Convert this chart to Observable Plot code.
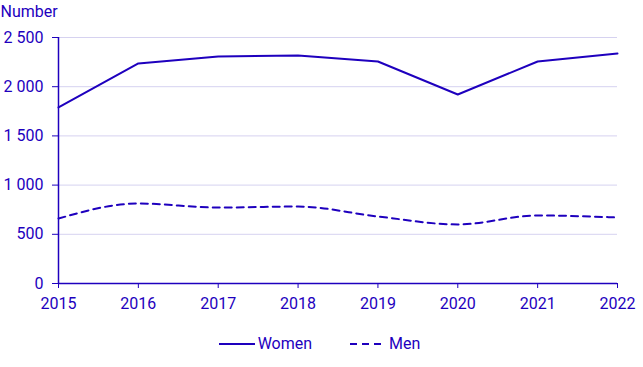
<!DOCTYPE html>
<html>
<head>
<meta charset="utf-8">
<script src="https://cdn.jsdelivr.net/npm/d3@7"></script>
<script src="https://cdn.jsdelivr.net/npm/@observablehq/plot@0.6"></script>
<style>
  body { margin: 0; background: #fff; font-family: Roboto, sans-serif; }
  #legend { height: 47px; display: flex; justify-content: center; align-items: center; gap: 38px; color: #1e00be; font-size: 16px; padding-right: 4px; box-sizing: border-box; }
  #legend span { display: inline-flex; align-items: center; gap: 3px; }
</style>
</head>
<body>
<div id="chart"></div>
<div id="legend"></div>
<script>
const years = [2015, 2016, 2017, 2018, 2019, 2020, 2021, 2022];
const women = [1789, 2236, 2307, 2317, 2256, 1921, 2256, 2337];
const men = [660, 813, 772, 782, 681, 600, 691, 671];
const yTicks = [0, 500, 1000, 1500, 2000, 2500];
const seriesNames = ["Women", "Men"];

const color = "#1e00be";
const grid = "#d6d2f0";
const fmt = d3.formatLocale({thousands: "\u00a0", grouping: [3], decimal: ".", currency: ["", ""]}).format(",");

const womenData = years.map((y, i) => ({year: y, value: women[i]}));
const menData = years.map((y, i) => ({year: y, value: men[i]}));

const chart = Plot.plot({
  width: 643,
  height: 320,
  marginTop: 37,
  marginBottom: 37,
  marginLeft: 58,
  marginRight: 26,
  style: {fontFamily: "Roboto, sans-serif", fontSize: "16px", color: color, background: "#fff"},
  x: {domain: [2015, 2022], ticks: years, tickFormat: d => String(d), label: null},
  y: {domain: [0, 2500], ticks: yTicks, tickFormat: fmt, label: null},
  marks: [
    Plot.gridY(yTicks.filter(d => d > 0), {stroke: grid, strokeOpacity: 1, strokeWidth: 1}),
    Plot.axisY({ticks: yTicks, tickFormat: fmt, tickSize: 6, tickPadding: 9, stroke: color, fill: color, label: null, fontSize: 16}),
    Plot.axisX({ticks: years, tickFormat: d => String(d), tickSize: 5, tickPadding: 9, stroke: color, fill: color, label: null, fontSize: 16}),
    Plot.ruleX([2015], {stroke: color, strokeWidth: 1.5}),
    Plot.ruleY([0], {stroke: color, strokeWidth: 1.5}),
    Plot.line(womenData, {x: "year", y: "value", stroke: color, strokeWidth: 2}),
    Plot.line(menData, {x: "year", y: "value", stroke: color, strokeWidth: 2, strokeDasharray: "7,5", curve: "monotone-x"}),
    Plot.text(["Number"], {frameAnchor: "top-left", dx: -58, dy: -32, fill: color, textAnchor: "start", fontSize: 16})
  ]
});
document.getElementById("chart").appendChild(chart);

const legend = document.getElementById("legend");
seriesNames.forEach((name, i) => {
  const span = document.createElement("span");
  const dash = i === 1 ? 'stroke-dasharray="7,5"' : '';
  span.innerHTML = `<svg width="36" height="10"><line x1="0" x2="36" y1="5" y2="5" stroke="${color}" stroke-width="2" ${dash}/></svg>${name}`;
  legend.appendChild(span);
});
</script>
</body>
</html>
